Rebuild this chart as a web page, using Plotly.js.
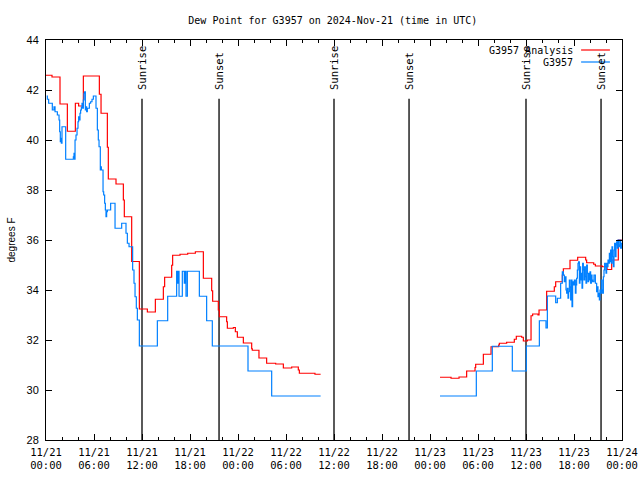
<!DOCTYPE html>
<html>
<head>
<meta charset="utf-8">
<script src="https://cdn.plot.ly/plotly-3.0.1.min.js"></script>
<style>html,body{margin:0;padding:0;background:#fff}#chart{width:640px;height:480px}</style>
</head>
<body>
<div id="chart"></div>
<script>
// Hours since 2024-11-21 00:00 UTC
const analysisHours = [0.0,0.75,1.75,2.67,3.67,4.08,4.67,6.67,6.88,7.67,7.79,8.75,9.67,9.79,10.71,11.67,12.67,13.67,14.67,14.83,15.71,15.83,16.75,17.71,18.67,19.67,20.71,20.83,21.54,21.67,22.58,22.67,23.42,23.67,23.92,24.67,25.71,25.79,26.62,27.58,28.71,29.67,30.71,31.54,31.67,33.62,34.33,
  41.0,
  49.25,50.63,51.63,52.58,53.63,53.71,54.67,55.63,56.58,56.67,57.58,58.54,58.79,59.46,59.67,60.17,60.63,60.83,61.5,61.63,62.58,63.54,63.71,64.54,64.67,65.5,66.46,67.46,67.58,68.46,68.67,69.54,70.13,70.71,71.54,72.0];
const analysisValues = [42.59,42.52,41.44,40.35,41.47,41.36,42.56,41.83,41.07,39.71,38.44,38.24,37.6,36.93,35.14,33.24,33.12,33.63,34.13,34.51,34.99,35.39,35.43,35.47,35.53,34.47,33.97,33.55,33.2,32.93,32.73,32.47,32.5,32.33,32.11,31.88,31.65,31.59,31.28,31.07,31.04,30.88,30.92,30.8,30.67,30.63,30.63,
  null,
  30.51,30.47,30.52,30.76,30.9,31.03,31.43,31.73,31.8,31.87,31.91,32.03,32.15,32.11,31.96,32.0,32.97,33.04,33.0,33.2,33.95,34.13,34.33,34.6,34.85,35.19,35.31,35.2,35.09,35.03,34.96,34.93,34.82,35.2,36.0,36.0];

const stationHours = [0.08,0.17,0.33,0.79,1.0,1.13,1.42,1.63,1.71,1.79,1.83,1.92,2.0,2.46,3.42,3.5,3.58,3.63,3.75,3.88,4.0,4.08,4.17,4.25,4.33,4.42,4.5,4.58,4.67,4.75,4.83,4.92,5.0,5.08,5.17,5.42,5.58,5.75,5.92,6.25,6.42,6.54,6.63,6.79,6.83,6.92,7.13,7.21,7.33,7.42,7.5,7.58,7.67,8.08,8.63,9.46,10.0,10.17,10.38,10.83,11.0,11.13,11.29,11.42,11.67,13.92,15.21,16.33,16.46,16.54,16.63,17.04,17.29,17.42,17.5,17.67,19.17,20.08,20.79,25.25,28.21,34.33,
  41.0,
  49.25,53.79,55.79,58.29,60.04,61.67,62.5,62.67,63.71,63.92,64.33,64.54,64.67,64.79,64.92,65.0,65.08,65.17,65.25,65.33,65.42,65.5,65.58,65.67,65.75,65.83,65.92,66.04,66.17,66.25,66.33,66.42,66.5,66.58,66.67,66.75,66.83,66.92,67.0,67.08,67.17,67.25,67.33,67.42,67.5,67.58,67.67,67.75,67.83,67.92,68.0,68.08,68.17,68.25,68.33,68.5,68.67,68.83,68.92,69.0,69.08,69.17,69.25,69.33,69.42,69.5,69.58,69.67,69.75,69.83,69.92,70.0,70.08,70.17,70.25,70.33,70.42,70.5,70.58,70.67,70.75,70.83,70.92,71.0,71.08,71.17,71.25,71.33,71.42,71.5,71.58,71.67,71.75,71.83,71.92,72.0];
const stationValues = [41.76,41.63,41.47,41.2,41.33,41.13,41.0,40.8,40.33,39.93,40.07,39.87,40.53,39.23,39.33,39.47,39.23,40.0,40.2,40.47,40.73,40.93,40.8,41.07,41.2,41.31,41.47,41.27,41.6,41.87,41.93,41.2,41.33,41.13,41.27,41.47,41.53,41.63,41.76,41.27,40.4,40.0,39.73,38.8,38.93,38.8,37.93,37.8,37.47,37.2,36.93,37.13,37.2,37.47,36.47,36.67,36.27,35.87,35.73,34.8,34.27,33.73,33.27,32.8,31.76,32.77,33.75,34.75,34.27,34.75,33.75,34.75,34.27,34.75,33.75,34.75,33.75,32.77,31.76,30.76,29.76,29.76,
  null,
  29.76,30.76,31.75,30.76,31.76,32.77,32.48,33.76,33.49,33.67,34.27,34.73,34.6,34.33,34.53,34.0,33.87,34.07,33.67,33.93,34.4,34.13,33.6,34.4,33.33,34.33,34.2,34.4,33.87,34.2,34.47,34.8,35.07,35.13,34.27,34.93,34.4,34.67,34.07,35.07,34.8,34.4,34.93,34.53,34.27,35.0,34.67,34.33,34.67,34.4,34.73,34.27,34.6,34.4,34.33,34.6,34.27,33.93,34.13,33.73,33.87,33.6,34.0,33.87,34.4,34.0,33.87,34.53,34.8,35.07,34.93,34.67,35.07,34.93,35.2,35.07,35.47,35.13,35.6,35.07,35.73,35.33,34.93,35.6,35.87,35.33,35.8,35.93,35.67,36.0,35.73,35.8,36.0,35.67,35.87,35.87];

const sunHours = [12.0, 21.63, 36.0, 45.38, 60.0, 69.38];
const sunLabels = ['Sunrise','Sunset','Sunrise','Sunset','Sunrise','Sunset'];

const tickHours = [0,6,12,18,24,30,36,42,48,54,60,66,72];
const tickDates = ['11/21','11/21','11/21','11/21','11/22','11/22','11/22','11/22','11/23','11/23','11/23','11/23','11/24'];
const tickTimes = ['00:00','06:00','12:00','18:00','00:00','06:00','12:00','18:00','00:00','06:00','12:00','18:00','00:00'];

const seriesNames = ['G3957 Analysis','G3957'];
const seriesColors = ['#ff0000','#0080ff'];

const mono = 'DejaVu Sans Mono';
const sans = 'Liberation Sans';

const traces = [
  {x: analysisHours, y: analysisValues, name: seriesNames[0], mode: 'lines', line: {shape: 'hv', color: seriesColors[0], width: 1.2}, connectgaps: false},
  {x: stationHours, y: stationValues, name: seriesNames[1], mode: 'lines', line: {shape: 'hv', color: seriesColors[1], width: 1.2}, connectgaps: false}
];

const shapes = sunHours.map(h => ({type: 'line', xref: 'x', yref: 'paper', x0: h, x1: h, y0: 0, y1: 0.853, line: {color: '#000', width: 1.3}, layer: 'below'}));
const annotations = sunHours.map((h, i) => ({x: h, xref: 'x', y: 0.87, yref: 'paper', text: sunLabels[i], textangle: -90, showarrow: false, xanchor: 'center', yanchor: 'bottom', font: {family: mono, size: 10.5, color: '#000'}}));

// legend drawn as text + sample lines
seriesNames.forEach((n, i) => {
  const yp = i === 0 ? 0.975 : 0.945;
  annotations.push({x: 0.918, xref: 'paper', y: yp, yref: 'paper', text: n, showarrow: false, xanchor: 'right', yanchor: 'middle', font: {family: mono, size: 10, color: '#000'}});
  shapes.push({type: 'line', xref: 'paper', yref: 'paper', x0: 0.929, x1: 0.979, y0: yp, y1: yp, line: {color: seriesColors[i], width: 1.2}});
});

const layout = {
  width: 640, height: 480,
  margin: {l: 46, r: 18, t: 40, b: 40, pad: 0},
  paper_bgcolor: '#fff', plot_bgcolor: '#fff',
  showlegend: false,
  title: {text: 'Dew Point for G3957 on 2024-Nov-21 (time in UTC)', font: {family: mono, size: 10, color: '#000'}, x: 0.52, xanchor: 'center', y: 0.958, yanchor: 'middle'},
  xaxis: {
    range: [0, 72], showgrid: false, zeroline: false,
    showline: true, linecolor: '#000', linewidth: 1, mirror: 'allticks',
    ticks: 'inside', ticklen: 6, tickcolor: '#000', tickwidth: 1,
    tickvals: tickHours, ticktext: tickHours.map((h, i) => tickDates[i] + '<br>' + tickTimes[i]),
    tickfont: {family: mono, size: 10.5, color: '#000'},
    ticklabelstandoff: 2,
    minor: {dtick: 2, ticks: 'inside', ticklen: 3, tickcolor: '#000', showgrid: false}
  },
  yaxis: {
    range: [28, 44], dtick: 2, showgrid: false, zeroline: false,
    showline: true, linecolor: '#000', linewidth: 1, mirror: 'allticks',
    ticks: 'inside', ticklen: 6, tickcolor: '#000', tickwidth: 1,
    tickfont: {family: sans, size: 11, color: '#000'},
    ticklabelstandoff: 4,
    title: {text: 'degrees F', font: {family: sans, size: 10, color: '#000'}, standoff: 9}
  },
  shapes: shapes,
  annotations: annotations
};

Plotly.newPlot('chart', traces, layout, {staticPlot: true, displayModeBar: false});
</script>
</body>
</html>
